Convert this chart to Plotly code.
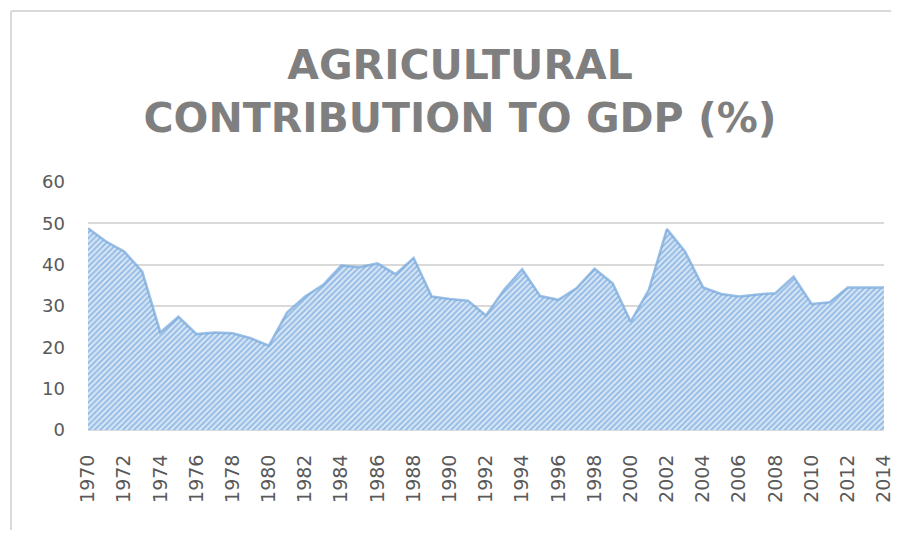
import plotly.graph_objects as go

years = list(range(1970, 2015))
agri_share = [48.8, 45.6, 43.2, 38.3, 23.6, 27.4, 23.2, 23.6, 23.4, 22.2,
              20.4, 28.4, 32.3, 35.1, 39.8, 39.4, 40.3, 37.7, 41.6, 32.3,
              31.7, 31.3, 27.7, 33.9, 38.9, 32.4, 31.5, 34.3, 39.0, 35.5,
              26.2, 33.9, 48.6, 43.2, 34.5, 32.9, 32.3, 32.8, 33.1, 37.1,
              30.5, 30.9, 34.5, 34.5, 34.5]
y_ticks = [0, 10, 20, 30, 40, 50, 60]
x_ticks = list(range(1970, 2015, 2))

OFF = 8  # page body margin
W, H = 899 - OFF, 538 - 2 * OFF
L, T = 88 - OFF, 182 - OFF
R = W - (884 - OFF)
B = H - (430 - OFF)
pw, ph = W - L - R, H - T - B

fig = go.Figure()
fig.add_trace(go.Scatter(
    x=years, y=agri_share, mode="lines", fill="tozeroy",
    line=dict(color="rgba(120,170,220,0.75)", width=2.5),
    fillcolor="#dae8f6",
    fillpattern=dict(shape="/", fgcolor="#4f8fd4", bgcolor="#dae8f6",
                     size=4, solidity=0.5),
    hoverinfo="x+y", showlegend=False,
))

def px_x(p):  # screen pixel -> paper
    return (p - OFF - L) / pw

def px_y(p):
    return 1 - (p - OFF - T) / ph

border = dict(color="#d9d9d9", width=2)
fig.add_shape(type="line", xref="paper", yref="paper",
              x0=px_x(11), x1=px_x(11), y0=px_y(11), y1=px_y(600),
              line=border, layer="below")
fig.add_shape(type="line", xref="paper", yref="paper",
              x0=px_x(11), x1=px_x(960), y0=px_y(11), y1=px_y(11),
              line=border, layer="below")

fig.update_layout(
    width=W, height=H,
    margin=dict(l=L, r=R, t=T, b=B, pad=0, autoexpand=False),
    paper_bgcolor="white", plot_bgcolor="white",
    title=dict(text="AGRICULTURAL<br>CONTRIBUTION TO GDP (%)",
               x=(460 - OFF) / W, xref="container", xanchor="center",
               y=1 - 71 / H, yref="container", yanchor="top",
               font=dict(family="DejaVu Sans", size=41, color="#7f7f7f",
                         weight="bold")),
    xaxis=dict(range=[1970, 2014], tickmode="array", tickvals=x_ticks,
               ticktext=[str(v) for v in x_ticks], tickangle=-90,
               showgrid=False, zeroline=False, showline=True,
               linecolor="#d9d9d9", linewidth=1, ticks="",
               automargin=False,
               ticklabelstandoff=16, ticklabeloverflow="allow",
               tickfont=dict(family="DejaVu Sans", size=19, color="#595959")),
    yaxis=dict(range=[0, 60], tickmode="array", tickvals=y_ticks,
               showgrid=True, gridcolor="#d9d9d9", gridwidth=1.5,
               zeroline=False, showline=False, ticks="",
               automargin=False,
               ticklabelstandoff=22,
               tickfont=dict(family="DejaVu Sans", size=18, color="#595959")),
)

fig.write_html("out.html")
